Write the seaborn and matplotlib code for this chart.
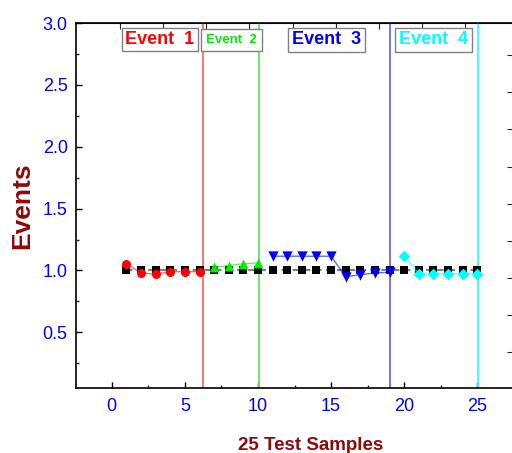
import numpy as np
import pandas as pd
import matplotlib
matplotlib.use("Agg")
import matplotlib.pyplot as plt
import seaborn as sns

# Reference level (all 25 samples)
ref_x = list(range(1, 26))
ref_y = [1.0] * 25

# Detected events per sample group
ev1_x = [1, 2, 3, 4, 5, 6]
ev1_y = [1.055, 0.98, 0.97, 0.99, 0.99, 0.99]
ev2_x = [7, 8, 9, 10]
ev2_y = [1.025, 1.04, 1.055, 1.06]
ev3_x = [11, 12, 13, 14, 15, 16, 17, 18, 19]
ev3_y = [1.115, 1.115, 1.115, 1.115, 1.115, 0.95, 0.965, 0.98, 0.985]
ev4_x = [20, 21, 22, 23, 24, 25]
ev4_y = [1.12, 0.975, 0.975, 0.975, 0.975, 0.975]

# Event boundaries
bound_x = [6.25, 10.1, 19.0, 25.05]
bound_colors = ["#ff6a6a", "#66e066", "#6a6aff", "#33ffff"]

event_labels = ["Event  1", "Event  2", "Event  3", "Event  4"]
event_label_x = [3.3, 8.2, 14.7, 22.0]
event_colors = ["#ff0000", "#00ee00", "#0000ff", "#00ffff"]
event_sizes = [13, 9.5, 13, 13]
event_pads = [0.18, 0.38, 0.2, 0.2]

sns.set_style("ticks")
plt.rcParams["font.family"] = ["Liberation Sans", "DejaVu Sans"]

fig = plt.figure(figsize=(5.12, 4.53), dpi=100)
ax = fig.add_axes([76 / 512, 65 / 453, 437 / 512, 365 / 453])

ref = pd.DataFrame({"x": ref_x, "y": ref_y})
sns.lineplot(data=ref, x="x", y="y", ax=ax, color="#808080", lw=1.6,
             linestyle=(0, (3, 2)), zorder=2)
sns.scatterplot(data=ref, x="x", y="y", ax=ax, color="black", marker="s",
                s=34, edgecolor="black", linewidth=0, zorder=3)

series = [
    (ev1_x, ev1_y, "#ff0000", "o", 42),
    (ev2_x, ev2_y, "#00ee00", "^", 50),
    (ev3_x, ev3_y, "#0000ff", "v", 55),
    (ev4_x, ev4_y, "#00ffff", "D", 35),
]
for xs, ys, col, mk, sz in series:
    d = pd.DataFrame({"x": xs, "y": ys})
    sns.lineplot(data=d, x="x", y="y", ax=ax, color=col, lw=1.0, alpha=0.6, zorder=4)
    sns.scatterplot(data=d, x="x", y="y", ax=ax, color=col, marker=mk, s=sz,
                    linewidth=0, zorder=5)

for bx, bc in zip(bound_x, bound_colors):
    ax.axvline(bx, color=bc, lw=1.3, zorder=1)

for lab, lx, lc, fs, pd_ in zip(event_labels, event_label_x, event_colors,
                                event_sizes, event_pads):
    ax.text(lx, 2.865, lab, color=lc, fontsize=fs, fontweight="bold",
            ha="center", va="center", zorder=6,
            bbox=dict(boxstyle=f"square,pad={pd_}", facecolor="white",
                      edgecolor="#808080", linewidth=1.0))

ax.set_xlim(-2.45, 27.45)
ax.set_ylim(0.05, 3.0)
ax.set_xticks([0, 5, 10, 15, 20, 25])
ax.set_xticks([2.5, 7.5, 12.5, 17.5, 22.5], minor=True)
ax.set_yticks([0.5, 1.0, 1.5, 2.0, 2.5, 3.0])
ax.set_yticks([0.25, 0.75, 1.25, 1.75, 2.25, 2.75], minor=True)
ax.yaxis.set_major_formatter(matplotlib.ticker.FormatStrFormatter("%.1f"))
ax.tick_params(axis="both", which="major", direction="in", length=4, width=1,
               labelsize=13, labelcolor="#0000ff", color="black")
ax.tick_params(axis="both", which="minor", direction="in", length=2.5, width=1)
ax.tick_params(axis="x", pad=7)
ax.tick_params(axis="y", pad=6)

for sp in ax.spines.values():
    sp.set_visible(True)
    sp.set_linewidth(1.2)
    sp.set_color("black")

top = ax.secondary_xaxis("top")
top.set_xticks([0.57 + 2.95 * k for k in range(9)])
top.tick_params(direction="in", length=4, labeltop=False)
top.set_xticklabels([])
right = ax.secondary_yaxis("right")
right.set_yticks([0.34 + 0.3 * k for k in range(10)])
right.tick_params(direction="in", length=4, labelright=False)
right.set_yticklabels([])

ax.set_xlabel("25 Test Samples", fontsize=13.5, fontweight="bold", color="#8b0a0a")
ylab = ax.set_ylabel("Events", fontsize=19, fontweight="bold", color="#8b0a0a")
ylab.set_va("center")
ax.xaxis.set_label_coords(0.537, -0.135)
ax.yaxis.set_label_coords(-0.123, 0.5)

fig.savefig("out.png", dpi=100)
